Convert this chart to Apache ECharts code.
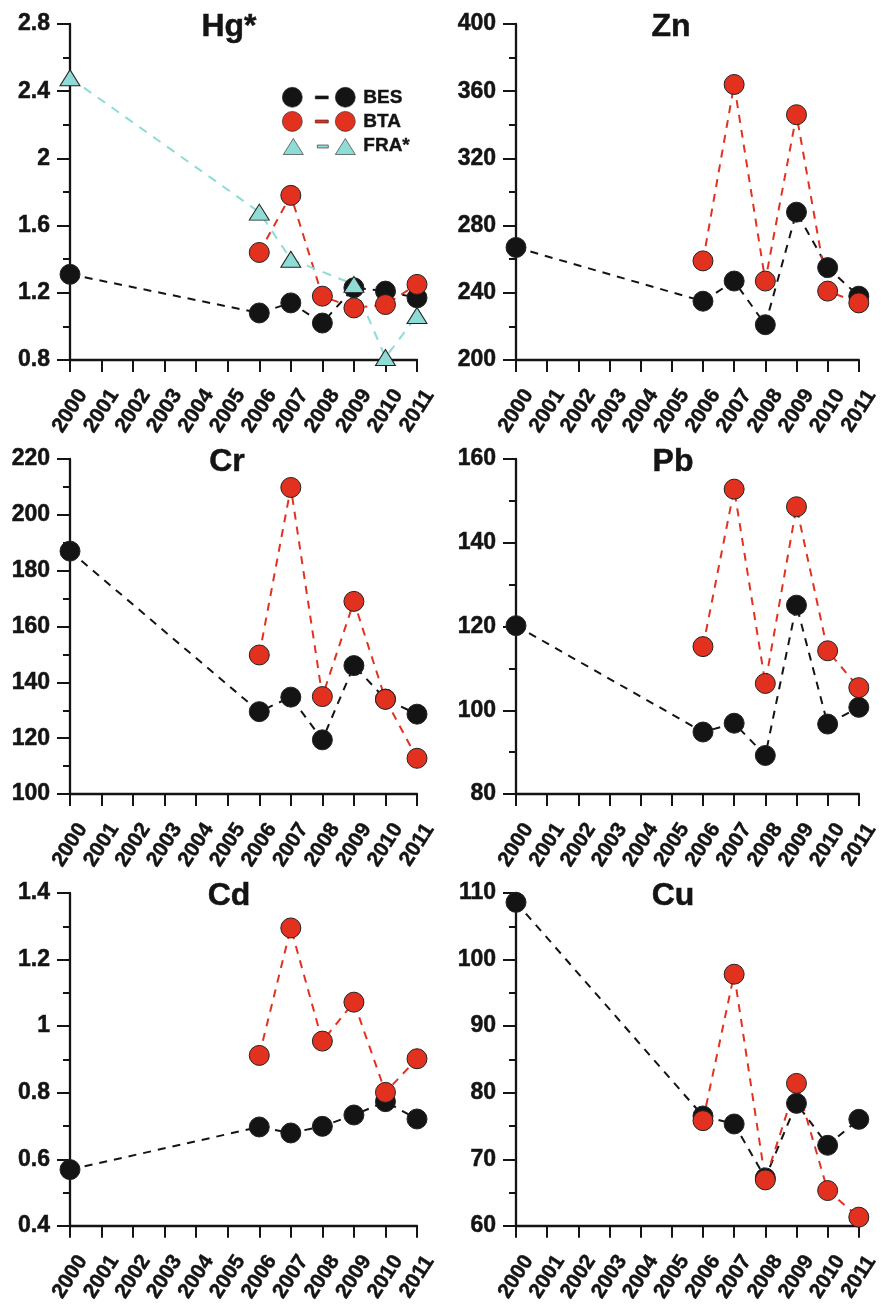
<!DOCTYPE html>
<html>
<head>
<meta charset="utf-8">
<script src="https://cdn.jsdelivr.net/npm/echarts@6/dist/echarts.min.js"></script>
<style>
html,body{margin:0;padding:0;background:#fff;}
#chart{width:882px;height:1305px;}
</style>
</head>
<body>
<div id="chart"></div>
<script>
// ---- data ----
const years = ['2000','2001','2002','2003','2004','2005','2006','2007','2008','2009','2010','2011'];
const panelTitles = ['Hg*', 'Zn', 'Cr', 'Pb', 'Cd', 'Cu'];

const hgBES = [1.31, null, null, null, null, null, 1.08, 1.14, 1.02, 1.23, 1.21, 1.17];
const hgBTA = [null, null, null, null, null, null, 1.44, 1.78, 1.18, 1.11, 1.13, 1.25];
const hgFRA = [2.48, null, null, null, null, null, 1.68, 1.40, null, 1.25, 0.815, 1.065];

const znBES = [267, null, null, null, null, null, 235, 247, 221, 288, 255, 238];
const znBTA = [null, null, null, null, null, null, 259, 364, 247, 346, 241, 234];

const crBES = [187, null, null, null, null, null, 129.5, 134.7, 119.4, 146, 134, 128.6];
const crBTA = [null, null, null, null, null, null, 149.8, 209.8, 134.9, 169, 133.9, 112.8];

const pbBES = [120.2, null, null, null, null, null, 94.8, 96.9, 89.2, 125.1, 96.7, 100.7];
const pbBTA = [null, null, null, null, null, null, 115.2, 152.8, 106.4, 148.6, 114.2, 105.4];

const cdBES = [0.569, null, null, null, null, null, 0.697, 0.679, 0.699, 0.733, 0.773, 0.721];
const cdBTA = [null, null, null, null, null, null, 0.912, 1.295, 0.955, 1.072, 0.801, 0.902];

const cuBES = [108.6, null, null, null, null, null, 76.5, 75.3, 67.2, 78.4, 72.1, 76.0];
const cuBTA = [null, null, null, null, null, null, 75.8, 97.8, 66.9, 81.4, 65.3, 61.3];

// y-axis ranges [min, max, interval]
const yRanges = [[0.8, 2.8, 0.4], [200, 400, 40], [100, 220, 20], [80, 160, 20], [0.4, 1.4, 0.2], [60, 110, 10]];

const panelSeries = [
  [['BES', hgBES], ['BTA', hgBTA], ['FRA*', hgFRA]],
  [['BES', znBES], ['BTA', znBTA]],
  [['BES', crBES], ['BTA', crBTA]],
  [['BES', pbBES], ['BTA', pbBTA]],
  [['BES', cdBES], ['BTA', cdBTA]],
  [['BES', cuBES], ['BTA', cuBTA]]
];

// ---- layout / style ----
const FONT = "'Liberation Sans', Arial, sans-serif";
const INK = '#141414';
const grids = [
  {left: 70,  top: 24,  width: 347, height: 336},
  {left: 516, top: 24,  width: 348, height: 336},
  {left: 70,  top: 459, width: 347, height: 335},
  {left: 516, top: 459, width: 348, height: 335},
  {left: 70,  top: 893, width: 347, height: 335},
  {left: 516, top: 893, width: 348, height: 335}
];
const titlePos = [[229, 11], [671, 11], [227, 446], [673, 446], [229, 880], [673, 880]];

const styles = {
  'BES':  {symbol: 'circle', size: 20, fill: '#141414', line: '#141414', dash: [8, 7]},
  'BTA':  {symbol: 'circle', size: 20, fill: '#e2321f', line: '#e2321f', dash: [8, 7]},
  'FRA*': {symbol: 'triangle', size: [20, 16], fill: '#8fdcd6', line: '#8fdcd6', dash: [9, 8]}
};

const xAxes = [], yAxes = [], series = [], titles = [];
grids.forEach((g, i) => {
  xAxes.push({
    gridIndex: i, type: 'category', data: years, boundaryGap: false,
    axisLine: {show: true, lineStyle: {color: INK, width: 2.3}},
    axisTick: {show: true, interval: 0, length: 12, lineStyle: {color: INK, width: 2}},
    axisLabel: {interval: 0, rotate: 57, align: 'center', verticalAlign: 'middle', margin: 51,
      fontSize: 21, fontWeight: 'bold', color: INK, fontFamily: FONT,
      textBorderColor: INK, textBorderWidth: 0.5},
    splitLine: {show: false}
  });
  const r = yRanges[i];
  yAxes.push({
    gridIndex: i, type: 'value', min: r[0], max: r[1], interval: r[2],
    axisLine: {show: true, lineStyle: {color: INK, width: 2.3}},
    axisTick: {show: true, length: 13, lineStyle: {color: INK, width: 2}},
    minorTick: {show: true, splitNumber: 2, length: 7, lineStyle: {color: INK, width: 2}},
    axisLabel: {margin: 20, fontSize: 23, fontWeight: 'bold', color: INK, fontFamily: FONT,
      textBorderColor: INK, textBorderWidth: 0.5},
    splitLine: {show: false}, minorSplitLine: {show: false}
  });
  titles.push({
    text: panelTitles[i], left: titlePos[i][0], top: titlePos[i][1], textAlign: 'center', padding: 0,
    textStyle: {fontSize: 32, fontWeight: 'bold', color: INK, fontFamily: FONT,
      textBorderColor: INK, textBorderWidth: 0.5}
  });
  panelSeries[i].forEach(([name, vals]) => {
    const s = styles[name];
    series.push({
      name: name, type: 'line', xAxisIndex: i, yAxisIndex: i, data: vals,
      connectNulls: true, clip: false,
      symbol: s.symbol, symbolSize: s.size,
      itemStyle: {color: s.fill, borderColor: '#222', borderWidth: 1},
      lineStyle: {color: s.line, width: 2, type: s.dash},
      emphasis: {disabled: true}, animation: false
    });
  });
});

const circlePairIcon = 'path://M0,10 A10,10 0 1,1 20,10 A10,10 0 1,1 0,10 Z M33,8.6 L46,8.6 L46,11.6 L33,11.6 Z M53,10 A10,10 0 1,1 73,10 A10,10 0 1,1 53,10 Z';
const triPairIcon = 'path://M1,19 L11,3 L21,19 Z M35,9.5 L46,9.5 L46,12.5 L35,12.5 Z M53,19 L63,3 L73,19 Z M0,0 L0.01,0 Z M72.99,20 L73,20 Z';

const option = {
  backgroundColor: '#ffffff',
  animation: false,
  title: titles,
  grid: grids,
  xAxis: xAxes,
  yAxis: yAxes,
  legend: {
    orient: 'vertical', left: 282, top: 87, padding: 0,
    itemWidth: 73, itemHeight: 20, itemGap: 3.5,
    selectedMode: false,
    textStyle: {fontSize: 19, fontWeight: 'bold', color: INK, fontFamily: FONT, padding: [0, 0, 0, 3],
      textBorderColor: INK, textBorderWidth: 0.4},
    itemStyle: {borderColor: '#222', borderWidth: 0.6},
    data: [
      {name: 'BES', icon: circlePairIcon},
      {name: 'BTA', icon: circlePairIcon},
      {name: 'FRA*', icon: triPairIcon}
    ]
  },
  series: series
};

const chart = echarts.init(document.getElementById('chart'), null, {renderer: 'canvas'});
chart.setOption(option);
</script>
</body>
</html>
